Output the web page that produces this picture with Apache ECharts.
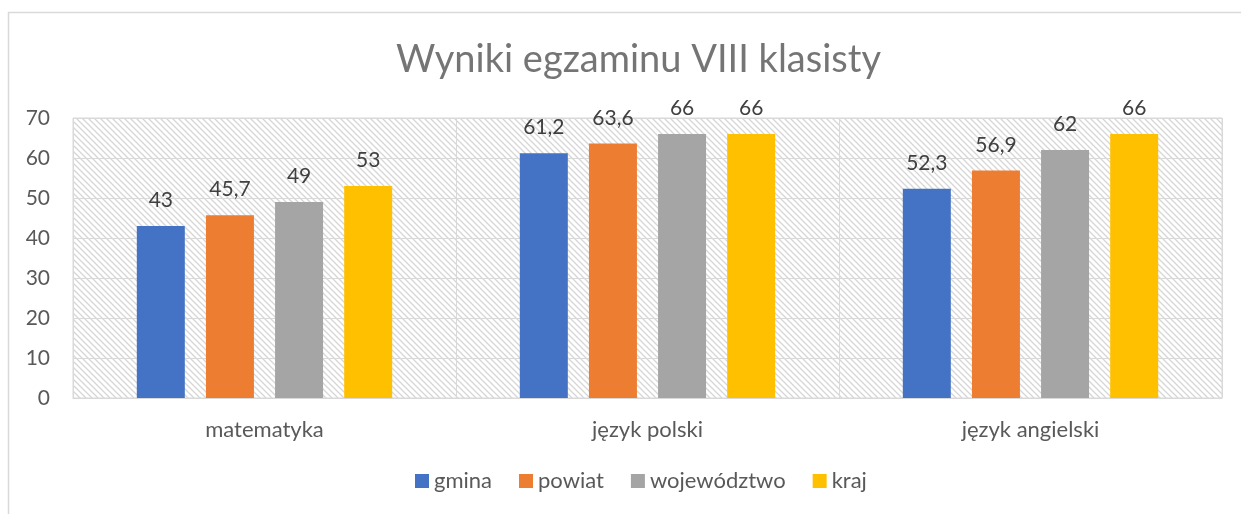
<!DOCTYPE html>
<html>
<head>
<meta charset="utf-8">
<script src="https://cdn.jsdelivr.net/npm/echarts@6/dist/echarts.min.js"></script>
<style>
  html, body { margin: 0; padding: 0; background: #fff; }
  #main { width: 1241px; height: 514px; }
</style>
</head>
<body>
<div id="main"></div>
<script>
const categories = ['matematyka', 'język polski', 'język angielski'];
const gmina = [43, 61.2, 52.3];
const powiat = [45.7, 63.6, 56.9];
const wojewodztwo = [49, 66, 62];
const kraj = [53, 66, 66];

const fontFamily = 'Lato, "Open Sans", sans-serif';

// diagonal hatch used by Excel as plot area fill
function hatch() {
  const c = document.createElement('canvas');
  c.width = 6; c.height = 6;
  const ctx = c.getContext('2d');
  ctx.fillStyle = '#fff';
  ctx.fillRect(0, 0, 6, 6);
  ctx.strokeStyle = '#d6d6d6';
  ctx.lineWidth = 1.3;
  ctx.beginPath();
  ctx.moveTo(-1, -1); ctx.lineTo(7, 7);
  ctx.moveTo(-1, 5); ctx.lineTo(1, 7);
  ctx.moveTo(5, -1); ctx.lineTo(7, 1);
  ctx.stroke();
  return c;
}

function bar(name, data, color) {
  return {
    name: name,
    type: 'bar',
    data: data,
    barWidth: 48,
    barGap: '44%',
    itemStyle: { color: color },
    label: {
      show: true,
      position: 'top',
      distance: 15,
      fontFamily: fontFamily,
      fontSize: 21,
      color: '#404040',
      formatter: p => String(p.value).replace('.', ',')
    }
  };
}

const chart = echarts.init(document.getElementById('main'));
chart.setOption({
  animation: false,
  backgroundColor: '#fff',
  title: {
    text: 'Wyniki egzaminu VIII klasisty',
    left: 391,
    top: 36,
    textStyle: { fontFamily: fontFamily, fontSize: 38, fontWeight: 'normal', color: '#757575' }
  },
  legend: {
    bottom: 17,
    left: 410,
    itemWidth: 14,
    itemHeight: 14,
    itemGap: 27,
    icon: 'rect',
    textStyle: { fontFamily: fontFamily, fontSize: 22, color: '#595959' }
  },
  grid: {
    left: 73, right: 19, top: 118, bottom: 116,
    show: true,
    borderColor: '#d9d9d9',
    borderWidth: 1,
    backgroundColor: { image: hatch(), repeat: 'repeat' }
  },
  xAxis: {
    type: 'category',
    data: categories,
    axisLine: { lineStyle: { color: '#d9d9d9' } },
    axisTick: { show: false },
    splitLine: { show: true, lineStyle: { color: '#d9d9d9' } },
    axisLabel: { fontFamily: fontFamily, fontSize: 22, color: '#595959', margin: 21 }
  },
  yAxis: {
    type: 'value',
    min: 0, max: 70, interval: 10,
    axisLine: { show: false },
    axisTick: { show: false },
    splitLine: { lineStyle: { color: '#d9d9d9' } },
    axisLabel: { fontFamily: fontFamily, fontSize: 21, color: '#595959', margin: 23 }
  },
  graphic: [{
    type: 'rect',
    shape: { x: 8.5, y: 12.5, width: 1250, height: 520 },
    style: { fill: null, stroke: '#d9d9d9', lineWidth: 1.5 },
    silent: true
  }],
  series: [
    bar('gmina', gmina, '#4472c4'),
    bar('powiat', powiat, '#ed7d31'),
    bar('województwo', wojewodztwo, '#a5a5a5'),
    bar('kraj', kraj, '#ffc000')
  ]
});
</script>
</body>
</html>
